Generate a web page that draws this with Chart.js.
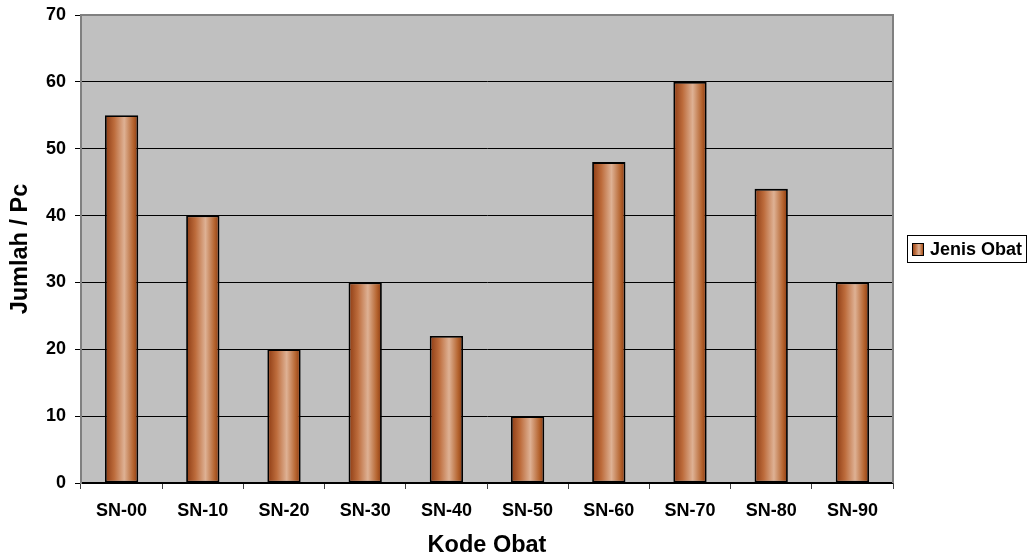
<!DOCTYPE html>
<html>
<head>
<meta charset="utf-8">
<title>Jumlah / Pc per Kode Obat</title>
<script src="https://cdn.jsdelivr.net/npm/chart.js@4/dist/chart.umd.min.js"></script>
<style>
  html, body { margin: 0; padding: 0; background: #ffffff; }
  #wrap { width: 1035px; height: 560px; }
</style>
</head>
<body>
<div id="wrap"><canvas id="chart" width="1035" height="560"></canvas></div>
<script>
// Medicine codes and their counts
const categories = ['SN-00', 'SN-10', 'SN-20', 'SN-30', 'SN-40', 'SN-50', 'SN-60', 'SN-70', 'SN-80', 'SN-90'];
const jenisObat = [55, 40, 20, 30, 22, 10, 48, 60, 44, 30];
const seriesLabel = 'Jenis Obat';
const yTicks = [0, 10, 20, 30, 40, 50, 60, 70];

const FONT = "'Liberation Sans', Arial, sans-serif";
const BAR_PCT = 0.41;

// Copper cylinder-like shading across a bar
function copperGradient(c, x0, x1) {
  const g = c.createLinearGradient(x0, 0, x1, 0);
  g.addColorStop(0, '#8c3a12');
  g.addColorStop(0.28, '#bd6c3c');
  g.addColorStop(0.58, '#deb194');
  g.addColorStop(0.85, '#b5642f');
  g.addColorStop(1, '#8a380f');
  return g;
}

// Grey plot area, plot frame and boxed legend
const plotDecor = {
  id: 'plotDecor',
  beforeDraw(chart) {
    const { ctx, chartArea: a } = chart;
    ctx.save();
    ctx.fillStyle = '#c0c0c0';
    ctx.fillRect(a.left, a.top, a.right - a.left, a.bottom - a.top);
    ctx.restore();
  },
  afterDraw(chart) {
    const { ctx, chartArea: a } = chart;
    ctx.save();
    // top and right frame of the plot area
    ctx.strokeStyle = '#808080';
    ctx.lineWidth = 2;
    ctx.beginPath();
    ctx.moveTo(a.left, a.top);
    ctx.lineTo(a.right, a.top);
    ctx.lineTo(a.right, a.bottom);
    ctx.stroke();

    // legend box
    const bx = 907, by = 235, bw = 120, bh = 28;
    ctx.fillStyle = '#ffffff';
    ctx.fillRect(bx, by, bw, bh);
    ctx.strokeStyle = '#000000';
    ctx.lineWidth = 1;
    ctx.strokeRect(bx + 0.5, by + 0.5, bw - 1, bh - 1);
    // swatch
    const sx = 912, sy = 243, sw = 12, sh = 13;
    ctx.fillStyle = copperGradient(ctx, sx, sx + sw);
    ctx.fillRect(sx, sy, sw, sh);
    ctx.strokeRect(sx + 0.5, sy + 0.5, sw - 1, sh - 1);
    // label
    ctx.fillStyle = '#000000';
    ctx.font = 'bold 18px ' + FONT;
    ctx.textBaseline = 'middle';
    ctx.textAlign = 'left';
    ctx.fillText(chart.data.datasets[0].label, 930, by + bh / 2 + 1);
    ctx.restore();
  }
};

new Chart(document.getElementById('chart'), {
  type: 'bar',
  data: {
    labels: categories,
    datasets: [{
      label: seriesLabel,
      data: jenisObat,
      backgroundColor: (ctx) => {
        const chart = ctx.chart;
        const xs = chart.scales && chart.scales.x;
        if (!xs || ctx.dataIndex === undefined) return '#c07040';
        const cx = xs.getPixelForValue(ctx.dataIndex);
        const w = (xs.width / categories.length) * BAR_PCT;
        if (!isFinite(cx) || !isFinite(w) || w <= 0) return '#c07040';
        return copperGradient(chart.ctx, cx - w / 2, cx + w / 2);
      },
      borderColor: '#000000',
      borderWidth: 1.8,
      borderSkipped: false,
      categoryPercentage: 1,
      barPercentage: BAR_PCT
    }]
  },
  options: {
    responsive: false,
    animation: false,
    layout: { padding: { left: 0, right: 142, top: 15, bottom: 0 } },
    plugins: {
      legend: { display: false },
      tooltip: { enabled: false }
    },
    scales: {
      x: {
        grid: {
          offset: true,
          drawOnChartArea: false,
          drawTicks: true,
          tickLength: 6,
          color: '#404040'
        },
        border: { color: '#000000', width: 1.5 },
        ticks: {
          color: '#000000',
          font: { family: FONT, size: 18, weight: 'bold' },
          padding: 11,
          maxRotation: 0,
          autoSkip: false
        },
        title: {
          display: true,
          text: 'Kode Obat',
          color: '#000000',
          font: { family: FONT, size: 23.5, weight: 'bold', lineHeight: 1.2 },
          padding: { top: 0, bottom: 0 }
        },
        afterFit(scale) {
          scale.height = 77;
          scale.paddingLeft = 0;
          scale.paddingRight = 0;
        }
      },
      y: {
        min: 0,
        max: 70,
        afterBuildTicks(scale) { scale.ticks = yTicks.map(v => ({ value: v })); },
        grid: {
          color: '#000000',
          lineWidth: 1,
          drawTicks: true,
          tickLength: 6
        },
        border: { color: '#808080', width: 2 },
        ticks: {
          color: '#000000',
          font: { family: FONT, size: 18, weight: 'bold' },
          padding: 9
        },
        title: {
          display: true,
          text: 'Jumlah / Pc',
          color: '#000000',
          font: { family: FONT, size: 23.5, weight: 'bold', lineHeight: 1.2 },
          padding: { top: 6, bottom: 0 }
        },
        afterFit(scale) {
          scale.width = 81;
          scale.paddingTop = 0;
          scale.paddingBottom = 0;
        }
      }
    }
  },
  plugins: [plotDecor]
});
</script>
</body>
</html>
